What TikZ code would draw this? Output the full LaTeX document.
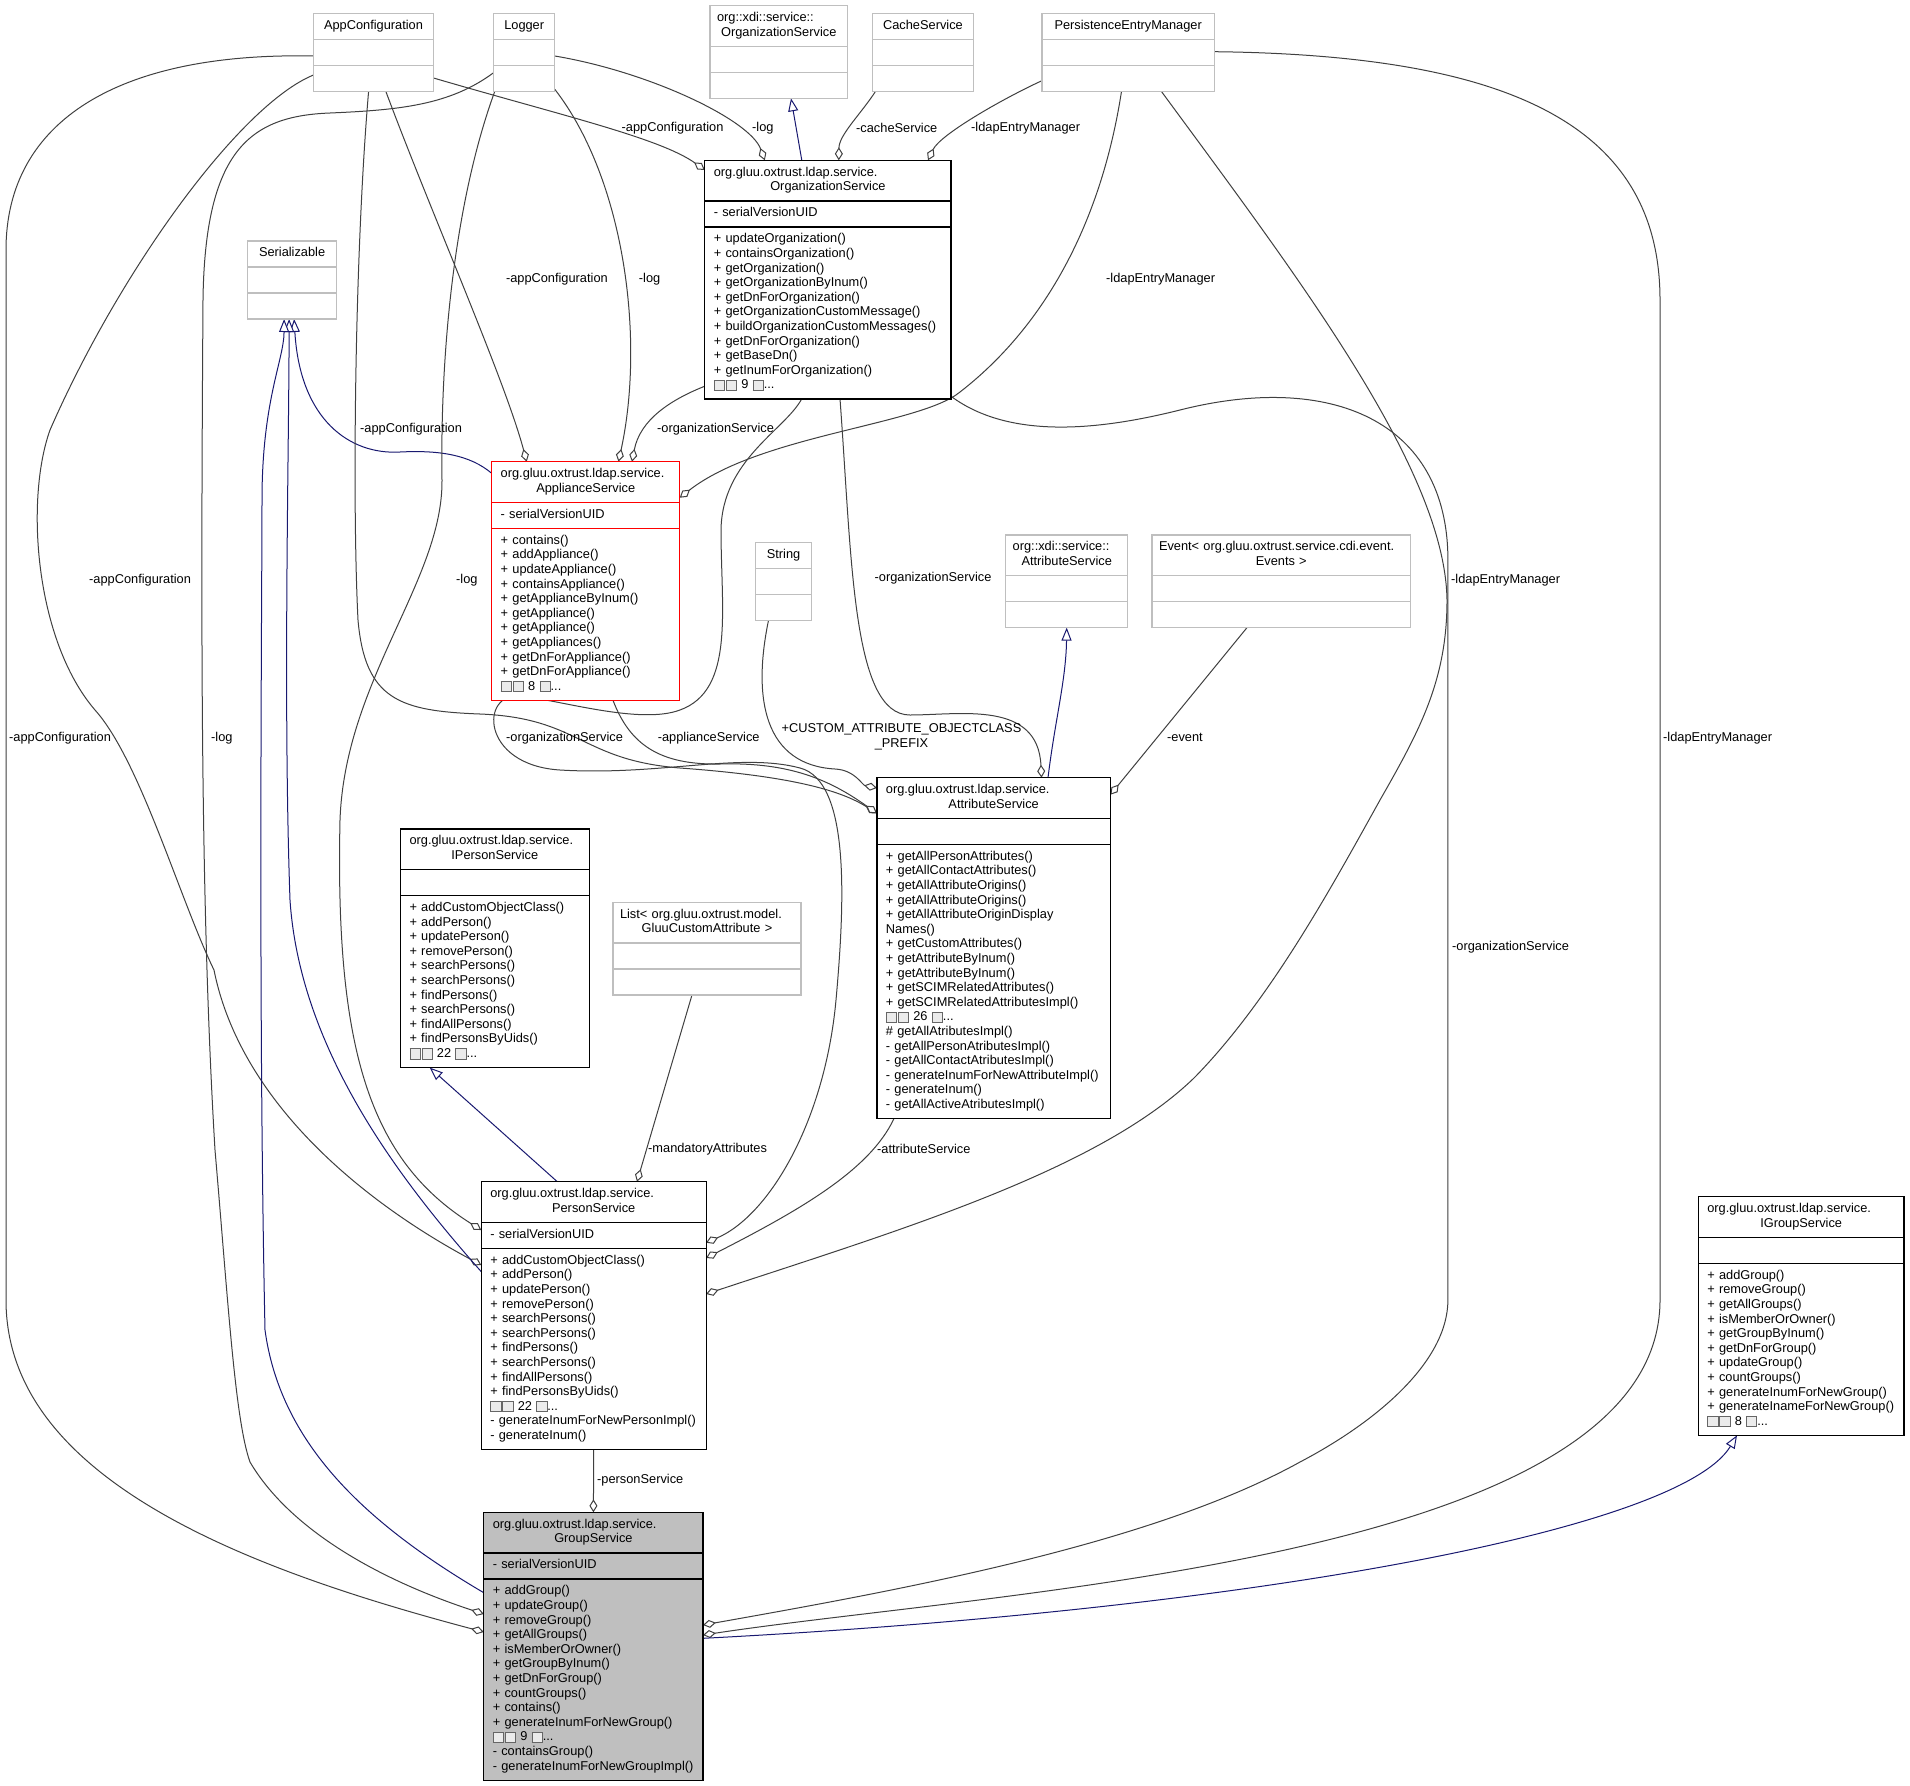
\documentclass[tikz,border=0pt]{standalone}
\usepackage{fontspec}
\setmainfont{Liberation Sans}
\usetikzlibrary{shapes.multipart,arrows.meta,calc,backgrounds}
\definecolor{extgray}{HTML}{BFBFBF}
\definecolor{edgegray}{HTML}{404040}
\definecolor{inhblue}{HTML}{191970}
\newcommand{\umlfont}{\fontsize{12.8}{14.6}\selectfont}
\newcommand{\mb}[1]{\strut#1\par}
\newcommand{\nog}{\raisebox{-1pt}{\setlength{\fboxsep}{0pt}\setlength{\fboxrule}{0.8pt}\fcolorbox{black!60}{black!8}{\rule{0pt}{9.5pt}\hspace{9.5pt}}}}
\newcommand{\moreops}[1]{\mb{\nog\kern1pt\nog{} #1 \nog...}}
\hyphenpenalty=10000
\exhyphenpenalty=10000
\tikzset{
  umlbox/.style={rectangle split, rectangle split parts=3, line width=1.2pt, inner ysep=5.1pt, outer sep=0pt, anchor=north west, font=\umlfont, fill=white},
  cls/.style={umlbox, draw=black, inner xsep=9pt},
  ext/.style={umlbox, draw=extgray, inner xsep=7pt},
  lbl/.style={font=\umlfont, inner sep=0pt, anchor=west},
  agg/.style={draw=edgegray, line width=1pt, -{Diamond[fill=white, length=13pt, width=8pt]}},
  inh/.style={draw=inhblue, line width=1pt, -{Triangle[fill=white, length=13pt, width=10pt]}}
}
\begin{document}
\begin{tikzpicture}[x=1pt, y=-1pt]
\useasboundingbox (0,0) rectangle (1910,1785);

\node[ext, text width=106pt] (app) at (313.5,13.3) {\centering\mb{AppConfiguration}\nodepart{two}\mb{}\nodepart{three}\mb{}};
\node[ext, text width=47.2pt] (log) at (493.6,13.3) {\centering\mb{Logger}\nodepart{two}\mb{}\nodepart{three}\mb{}};
\node[ext, text width=123.5pt] (xorg) at (710,5.7) {\centering\mb{org::xdi::service::\hfill\null}\mb{OrganizationService}\nodepart{two}\mb{}\nodepart{three}\mb{}};
\node[ext, text width=86.7pt] (cache) at (872.6,13.3) {\centering\mb{CacheService}\nodepart{two}\mb{}\nodepart{three}\mb{}};
\node[ext, text width=158.6pt] (pem) at (1041.9,13.3) {\centering\mb{PersistenceEntryManager}\nodepart{two}\mb{}\nodepart{three}\mb{}};

\node[cls, text width=228.2pt] (os) at (704.8,160.3) {\centering\mb{org.gluu.oxtrust.ldap.service.\hfill\null}\mb{OrganizationService}
  \nodepart{two}\mb{-~serialVersionUID}
  \nodepart{three}\mb{+~updateOrganization()}\mb{+~containsOrganization()}\mb{+~getOrganization()}\mb{+~getOrganizationByInum()}\mb{+~getDnForOrganization()}\mb{+~getOrganizationCustomMessage()}\mb{+~buildOrganizationCustomMessages()}\mb{+~getDnForOrganization()}\mb{+~getBaseDn()}\mb{+~getInumForOrganization()}\moreops{9}};

\node[ext, text width=75.4pt] (ser) at (247.4,241) {\centering\mb{Serializable}\nodepart{two}\mb{}\nodepart{three}\mb{}};

\node[cls, draw=red, text width=170pt] (appl) at (491.7,461.7) {\centering\mb{org.gluu.oxtrust.ldap.service.\hfill\null}\mb{ApplianceService}
  \nodepart{two}\mb{-~serialVersionUID}
  \nodepart{three}\mb{+~contains()}\mb{+~addAppliance()}\mb{+~updateAppliance()}\mb{+~containsAppliance()}\mb{+~getApplianceByInum()}\mb{+~getAppliance()}\mb{+~getAppliance()}\mb{+~getAppliances()}\mb{+~getDnForAppliance()}\mb{+~getDnForAppliance()}\moreops{8}};

\node[ext, text width=41.7pt] (str) at (755.7,542.3) {\centering\mb{String}\nodepart{two}\mb{}\nodepart{three}\mb{}};
\node[ext, text width=108pt] (xattr) at (1005.7,535) {\centering\mb{org::xdi::service::\hfill\null}\mb{AttributeService}\nodepart{two}\mb{}\nodepart{three}\mb{}};
\node[ext, text width=244.5pt] (evt) at (1152,535) {\centering\mb{Event<~org.gluu.oxtrust.service.cdi.event.\hfill\null}\mb{Events~>}\nodepart{two}\mb{}\nodepart{three}\mb{}};

\node[cls, text width=215.5pt] (attr) at (876.9,777.7) {\centering\mb{org.gluu.oxtrust.ldap.service.\hfill\null}\mb{AttributeService}
  \nodepart{two}\mb{}
  \nodepart{three}\mb{+~getAllPersonAttributes()}\mb{+~getAllContactAttributes()}\mb{+~getAllAttributeOrigins()}\mb{+~getAllAttributeOrigins()}\mb{+~getAllAttributeOriginDisplay}\mb{Names()}\mb{+~getCustomAttributes()}\mb{+~getAttributeByInum()}\mb{+~getAttributeByInum()}\mb{+~getSCIMRelatedAttributes()}\mb{+~getSCIMRelatedAttributesImpl()}\moreops{26}\mb{\#~getAllAtributesImpl()}\mb{-~getAllPersonAtributesImpl()}\mb{-~getAllContactAtributesImpl()}\mb{-~generateInumForNewAttributeImpl()}\mb{-~generateInum()}\mb{-~getAllActiveAtributesImpl()}};

\node[cls, text width=170.6pt] (ipers) at (400.5,829) {\centering\mb{org.gluu.oxtrust.ldap.service.\hfill\null}\mb{IPersonService}
  \nodepart{two}\mb{}
  \nodepart{three}\mb{+~addCustomObjectClass()}\mb{+~addPerson()}\mb{+~updatePerson()}\mb{+~removePerson()}\mb{+~searchPersons()}\mb{+~searchPersons()}\mb{+~findPersons()}\mb{+~searchPersons()}\mb{+~findAllPersons()}\mb{+~findPersonsByUids()}\moreops{22}};

\node[ext, text width=174pt] (list) at (613,902.3) {\centering\mb{List<~org.gluu.oxtrust.model.\hfill\null}\mb{GluuCustomAttribute~>}\nodepart{two}\mb{}\nodepart{three}\mb{}};

\node[cls, text width=206.8pt] (pers) at (481.3,1181.7) {\centering\mb{org.gluu.oxtrust.ldap.service.\hfill\null}\mb{PersonService}
  \nodepart{two}\mb{-~serialVersionUID}
  \nodepart{three}\mb{+~addCustomObjectClass()}\mb{+~addPerson()}\mb{+~updatePerson()}\mb{+~removePerson()}\mb{+~searchPersons()}\mb{+~searchPersons()}\mb{+~findPersons()}\mb{+~searchPersons()}\mb{+~findAllPersons()}\mb{+~findPersonsByUids()}\moreops{22}\mb{-~generateInumForNewPersonImpl()}\mb{-~generateInum()}};

\node[cls, text width=187.7pt] (igrp) at (1698.3,1196.7) {\centering\mb{org.gluu.oxtrust.ldap.service.\hfill\null}\mb{IGroupService}
  \nodepart{two}\mb{}
  \nodepart{three}\mb{+~addGroup()}\mb{+~removeGroup()}\mb{+~getAllGroups()}\mb{+~isMemberOrOwner()}\mb{+~getGroupByInum()}\mb{+~getDnForGroup()}\mb{+~updateGroup()}\mb{+~countGroups()}\mb{+~generateInumForNewGroup()}\mb{+~generateInameForNewGroup()}\moreops{8}};

\node[cls, fill=extgray, text width=201.2pt] (grp) at (483.8,1512.3) {\centering\mb{org.gluu.oxtrust.ldap.service.\hfill\null}\mb{GroupService}
  \nodepart{two}\mb{-~serialVersionUID}
  \nodepart{three}\mb{+~addGroup()}\mb{+~updateGroup()}\mb{+~removeGroup()}\mb{+~getAllGroups()}\mb{+~isMemberOrOwner()}\mb{+~getGroupByInum()}\mb{+~getDnForGroup()}\mb{+~countGroups()}\mb{+~contains()}\mb{+~generateInumForNewGroup()}\moreops{9}\mb{-~containsGroup()}\mb{-~generateInumForNewGroupImpl()}};

\begin{pgfonlayer}{background}
\fill[white] (0,0) rectangle (1910,1785);
\draw[agg] ($(app.north east)+(0,64.7)$) .. controls (560,115) and (660,138) .. ($(os.north west)+(0,9.7)$);
\draw[agg] ($(log.north east)+(0,42.7)$) .. controls (650,72) and (750,120) .. ($(os.north west)+(60,0)$);
\draw[inh] ($(os.north west)+(97,0)$) -- ($(xorg.south west)+(81,0)$);
\draw[agg] ($(cache.south west)+(3,0)$) .. controls (860,115) and (839,135) .. ($(os.north west)+(134,0)$);
\draw[agg] ($(pem.north west)+(0,67.4)$) .. controls (1000,100) and (940,135) .. ($(os.north east)+(-23,0)$);
\draw[agg] ($(app.south west)+(72.3,0)$) .. controls (430,210) and (505,380) .. ($(appl.north west)+(35,0)$);
\draw[agg] ($(log.south east)+(0,-2)$) .. controls (625,180) and (645,340) .. ($(appl.north west)+(126.8,0)$);
\draw[agg] ($(os.south west)+(0,-12.7)$) .. controls (670,400) and (640,420) .. ($(appl.north west)+(140.3,0)$);
\draw[inh] ($(appl.north west)+(0,11.6)$) .. controls (470,455) and (440,450) .. (400,452) .. controls (350,455) and (300,420) .. ($(ser.south)+(2,0)$);
\draw[agg] ($(pem.south west)+(79.6,0)$) .. controls (1100,230) and (1040,330) .. (960,392) .. controls (920,425) and (760,435) .. ($(appl.north east)+(0,36)$);
\draw[agg] ($(os.south west)+(135.2,0)$) .. controls (852,560) and (852,715) .. (910,715) .. controls (960,715) and (1038,700) .. ($(attr.north west)+(164.6,0)$);
\draw[agg] ($(str.south west)+(12.8,0)$) .. controls (752,700) and (765,765) .. (835,769) .. controls (855,770) and (862,785) .. ($(attr.north west)+(0,10.3)$);
\draw[agg] ($(app.south west)+(55.1,0)$) .. controls (355,250) and (352,500) .. (358,620) .. controls (365,700) and (400,711) .. (480,714) .. controls (580,718) and (580,760) .. (680,768) .. controls (790,776) and (840,790) .. ($(attr.north west)+(0,35.6)$);
\draw[agg] ($(appl.south west)+(121.3,0)$) .. controls (630,745) and (660,765) .. (720,764) .. controls (790,762) and (830,780) .. ($(attr.north west)+(0,35.6)$);
\draw[agg] ($(os.south west)+(96.9,0)$) .. controls (785,430) and (722,460) .. (721,530) .. controls (721,610) and (735,690) .. (680,710) .. controls (640,725) and (560,700) .. (520,696) .. controls (480,692) and (480,765) .. (560,770) .. controls (660,776) and (740,752) .. (800,768) .. controls (850,781) and (845,900) .. (836,1000) .. controls (825,1120) and (770,1215) .. ($(pers.north east)+(0,61)$);
\draw[agg] ($(attr.south west)+(17.1,0)$) .. controls (870,1170) and (800,1210) .. ($(pers.north east)+(0,76.3)$);
\draw[agg] ($(pem.south west)+(119.4,0)$) .. controls (1300,280) and (1445,470) .. (1447,600) .. controls (1447,680) and (1420,730) .. (1380,800) .. controls (1330,890) and (1270,1000) .. (1195,1077) .. controls (1100,1170) and (900,1230) .. ($(pers.north east)+(0,112.3)$);
\draw[agg] ($(os.north east)+(0,236)$) .. controls (1010,440) and (1100,430) .. (1180,410) .. controls (1330,372) and (1447.9,420) .. (1447.9,560) -- (1447.9,1300) .. controls (1447.9,1360) and (1380,1420) .. (1300,1462) .. controls (1150,1545) and (900,1590) .. ($(grp.north east)+(0,112.7)$);
\draw[agg] ($(pem.north east)+(0,38.4)$) .. controls (1500,55) and (1660,120) .. (1660,300) -- (1660,1300) .. controls (1660,1560) and (1000,1590) .. ($(grp.north east)+(0,122.7)$);
\draw[inh] ($(grp.north east)+(0,126)$) .. controls (1250,1610) and (1680,1530) .. ($(igrp.south west)+(38.7,0)$);
\draw[agg] (pers.south) -- (grp.north);
\draw[agg] ($(list.south west)+(79,0)$) -- ($(pers.north west)+(155.7,0)$);
\draw[inh] ($(pers.north west)+(76,0)$) -- ($(ipers.south west)+(29.2,0)$);
\draw[inh] ($(attr.north west)+(171.1,0)$) .. controls (1055,720) and (1066,680) .. (xattr.south);
\draw[agg] ($(evt.south west)+(95,0)$) -- ($(attr.north east)+(0,17)$);
\draw[agg] ($(log.south west)+(1.2,0)$) .. controls (455,200) and (440,350) .. (442,480) .. controls (443,580) and (345,680) .. (340,820) .. controls (335,1050) and (370,1160) .. ($(pers.north west)+(0,48.3)$);
\draw[agg] ($(app.north west)+(0,61.7)$) .. controls (240,105) and (120,270) .. (50,430) .. controls (25,500) and (35,640) .. (95,710) .. controls (140,760) and (180,900) .. (214,970) .. controls (240,1100) and (360,1200) .. ($(pers.north west)+(0,83.3)$);
\draw[agg] ($(app.north west)+(0,42.7)$) .. controls (120,52) and (6,120) .. (6,250) -- (6,1300) .. controls (6,1480) and (250,1570) .. ($(grp.north west)+(0,119.7)$);
\draw[agg] ($(log.north west)+(0,59.4)$) .. controls (450,105) and (400,110) .. (330,113) .. controls (250,116) and (205,150) .. (203,300) .. controls (201,600) and (200,900) .. (215,1150) .. controls (228,1300) and (235,1420) .. (250,1462) .. controls (290,1530) and (380,1580) .. ($(grp.north west)+(0,101.7)$);
\draw[inh] ($(pers.north west)+(0,90)$) .. controls (400,1180) and (300,1050) .. (290,900) .. controls (283,700) and (289,450) .. ($(ser.south)+(-3,0)$);
\draw[inh] ($(grp.north west)+(0,80.4)$) .. controls (360,1520) and (280,1440) .. (265,1330) .. controls (258,1000) and (262,600) .. (262,500) .. controls (262,400) and (284,360) .. ($(ser.south)+(-8,0)$);
\end{pgfonlayer}

\node[lbl] (lAppOs) at (621.5,127.7) {-appConfiguration};
\node[lbl] (lLogOs) at (752,127.7) {-log};
\node[lbl] (lCacheOs) at (856,127.7) {-cacheService};
\node[lbl] (lPemOs) at (971,127.7) {-ldapEntryManager};
\node[lbl] (lAppAppl) at (505.8,278.7) {-appConfiguration};
\node[lbl] (lLogAppl) at (638.7,278.7) {-log};
\node[lbl] (lPemAppl) at (1106,278.7) {-ldapEntryManager};
\node[lbl] (lAppAttr) at (360,428.7) {-appConfiguration};
\node[lbl] (lOsAppl) at (657,428.7) {-organizationService};
\node[lbl] (lOsAttr) at (874.5,578.5) {-organizationService};
\node[lbl] (lPemPers) at (1451,580) {-ldapEntryManager};
\node[lbl] (lAppPers) at (89,580) {-appConfiguration};
\node[lbl] (lLogPers) at (456,580) {-log};
\node[lbl] (lAppGrp) at (9,737.7) {-appConfiguration};
\node[lbl] (lLogGrp) at (211,737.7) {-log};
\node[lbl] (lOsPers) at (506,737.7) {-organizationService};
\node[lbl] (lApplAttr) at (657.6,737.7) {-applianceService};
\node[lbl, anchor=center, align=center] (lStrAttr) at (901.5,737) {+CUSTOM\_ATTRIBUTE\_OBJECTCLASS\\\_PREFIX};
\node[lbl] (lEvtAttr) at (1167,737.7) {-event};
\node[lbl] (lPemGrp) at (1663,737.7) {-ldapEntryManager};
\node[lbl] (lOsGrp) at (1452,946.7) {-organizationService};
\node[lbl] (lListPers) at (648,1149) {-mandatoryAttributes};
\node[lbl] (lAttrPers) at (877,1149) {-attributeService};
\node[lbl] (lPersGrp) at (597,1480) {-personService};
\end{tikzpicture}
\end{document}
